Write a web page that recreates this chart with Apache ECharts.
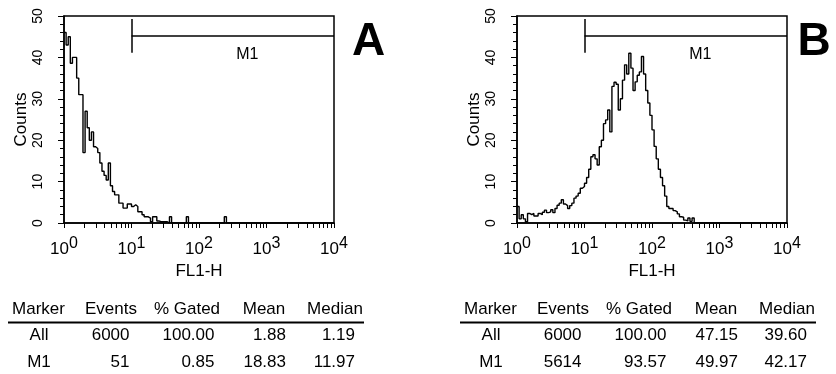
<!DOCTYPE html>
<html>
<head>
<meta charset="utf-8">
<script src="https://cdn.jsdelivr.net/npm/echarts@6/dist/echarts.min.js"></script>
<style>
  html, body { margin: 0; padding: 0; background: #fff; }
  #chart { width: 836px; height: 374px; }
</style>
</head>
<body>
<div id="chart"></div>
<script>
// FL1-H histograms, 32 channels per decade from 10^0 to 10^4
const countsA = [
  46, 43, 45, 38.6, 40, 40, 35, 31, 31, 17,
  27, 23, 20, 22, 18.4, 18, 17, 14.5, 12.5, 11.5,
  10.4, 14.5, 9, 7.6, 6.8, 6.8, 4.8, 4.8, 3.6, 3.6,
  4.6, 4.6, 4, 4.4, 4, 2.7, 2.7, 2, 1.5, 1.5,
  1.2, 0.3, 1.5, 1.5, 0.5, 0.3, 0.3, 0.3, 0.3, 0,
  1.5, 0, 0, 0, 0, 0, 0, 0, 1.5, 0,
  0, 0, 0, 0, 0, 0, 0, 0, 0, 0,
  0, 0, 0, 0, 0, 0, 1.5, 0, 0, 0,
  0, 0, 0, 0, 0, 0, 0, 0, 0, 0,
  0, 0, 0, 0, 0, 0, 0, 0, 0, 0,
  0, 0, 0, 0, 0, 0, 0, 0, 0, 0,
  0, 0, 0, 0, 0, 0, 0, 0, 0, 0,
  0, 0, 0, 0, 0, 0, 0, 0
];
const countsB = [
  4, 1, 2, 1, 0.3, 2.3, 2, 2.3, 1.7, 1.7,
  2.3, 2, 2.6, 3.1, 2.5, 2.7, 3.2, 2.5, 3.5, 4.3,
  4.8, 5.6, 4.6, 4.2, 3.5, 4.2, 4.8, 6, 6.5, 7.2,
  8.4, 8.8, 9.6, 11, 13, 16, 16.5, 15.5, 14, 18.4,
  20, 24, 24.9, 27.3, 22, 33, 34, 33.5, 27.3, 30,
  34.5, 38.2, 36, 41, 37.4, 32, 34.1, 35.7, 36.5, 40.2,
  36, 32, 29, 26, 22.5, 18.5, 15.5, 13, 11, 9,
  6.5, 4, 3.5, 3.5, 3, 2.7, 2.2, 1.5, 1.4, 0.7,
  0.5, 1.2, 0.4, 1.2, 0, 0, 0, 0, 0, 0,
  0, 0, 0, 0, 0, 0, 0, 0, 0, 0,
  0, 0, 0, 0, 0, 0, 0, 0, 0, 0,
  0, 0, 0, 0, 0, 0, 0, 0, 0, 0,
  0, 0, 0, 0, 0, 0, 0, 0
];
const channelsPerDecade = 32;
const decades = [1, 10, 100, 1000, 10000];
const countMax = 50;
const countStep = 10;

// M1 marker gate
const markerFrom = 10;
const markerTo = 10000;
const markerLevel = 45.2;
const markerHalf = 4.1;
const markerLabelAt = [520, 40.6];

// stats tables
const tableHeader = ['Marker', 'Events', '% Gated', 'Mean', 'Median'];
const statsA = [
  ['All', '6000', '100.00', '1.88', '1.19'],
  ['M1', '51', '0.85', '18.83', '11.97']
];
const statsB = [
  ['All', '6000', '100.00', '47.15', '39.60'],
  ['M1', '5614', '93.57', '49.97', '42.17']
];
const panelNames = ['A', 'B'];

const FONT = '"Liberation Sans", Arial, sans-serif';
const chart = echarts.init(document.getElementById('chart'));

// tick marks at 1..9 of each decade, expressed in channel units
const tickChannels = [];
decades.slice(0, -1).forEach(d => {
  for (let k = 1; k < 10; k++) tickChannels.push(channelsPerDecade * Math.log10(d * k));
});
tickChannels.push(channelsPerDecade * Math.log10(decades[decades.length - 1]));

const gridLefts = [64, 517];
const grid = gridLefts.map(l => ({
  left: l, top: 16, width: 270, height: 207,
  show: true, borderColor: '#000', borderWidth: 1.5
}));

const xAxis = [];
const yAxis = [];
const series = [];

[countsA, countsB].forEach((counts, p) => {
  // channel axis: histogram steps + the log tick marks
  xAxis.push({
    gridIndex: p, type: 'value', min: 0, max: counts.length, position: 'bottom',
    axisLine: {show: true, lineStyle: {color: '#000', width: 1.5}},
    axisTick: {show: true, length: 5, customValues: tickChannels, lineStyle: {color: '#000', width: 1}},
    axisLabel: {show: false},
    splitLine: {show: false}
  });
  // log display axis with the decade labels
  xAxis.push({
    gridIndex: p, type: 'log', logBase: 10, min: decades[0], max: decades[decades.length - 1],
    position: 'bottom',
    axisLine: {show: false},
    axisTick: {show: false},
    splitLine: {show: false},
    minorTick: {show: false},
    axisLabel: {
      margin: 13,
      formatter: v => '{b|10}{s|' + Math.round(Math.log10(v)) + '}',
      rich: {
        b: {fontSize: 17, fontFamily: FONT, color: '#000', verticalAlign: 'bottom'},
        s: {fontSize: 16, fontFamily: FONT, color: '#000', verticalAlign: 'bottom', padding: [0, 0, 6, 0]}
      }
    },
    name: 'FL1-H', nameLocation: 'middle', nameGap: 37,
    nameTextStyle: {fontSize: 17, fontFamily: FONT, color: '#000'}
  });
  yAxis.push({
    gridIndex: p, type: 'value', min: 0, max: countMax, interval: countStep,
    axisLine: {show: true, lineStyle: {color: '#000', width: 1.5}},
    axisTick: {show: true, length: 6, lineStyle: {color: '#000', width: 1}},
    minorTick: {show: true, splitNumber: 5, length: 4, lineStyle: {color: '#000', width: 1}},
    splitLine: {show: false},
    minorSplitLine: {show: false},
    axisLabel: {rotate: 90, margin: 19, fontSize: 14, fontFamily: FONT, color: '#000'},
    name: 'Counts', nameLocation: 'middle', nameGap: 34,
    nameTextStyle: {fontSize: 17, fontFamily: FONT, color: '#000'}
  });

  const steps = counts.map((c, i) => [i, c]);
  steps.push([counts.length, counts[counts.length - 1]]);
  series.push({
    type: 'line', xAxisIndex: 2 * p, yAxisIndex: p,
    step: 'end', symbol: 'none', data: steps,
    lineStyle: {color: '#000', width: 1.4}
  });

  series.push({
    type: 'scatter', xAxisIndex: 2 * p + 1, yAxisIndex: p,
    data: [markerLabelAt], symbolSize: 1,
    itemStyle: {color: '#fff', opacity: 1},
    label: {show: true, position: 'inside', formatter: 'M1', fontSize: 16, fontFamily: FONT, color: '#000'},
    markLine: {
      silent: true, symbol: 'none', label: {show: false},
      lineStyle: {color: '#000', width: 1.5, type: 'solid', opacity: 1},
      data: [
        [{coord: [markerFrom, markerLevel + markerHalf]}, {coord: [markerFrom, markerLevel - markerHalf]}],
        [{coord: [markerFrom, markerLevel]}, {coord: [markerTo, markerLevel]}]
      ]
    }
  });
});

// stats tables under each histogram
const headerCenters = [30.5, 103, 179, 256, 327];
const cellAnchors = [31, 121.5, 206.5, 278, 347];
const rowYs = [335, 362.5];
function tableElements(x0, rows) {
  const els = [];
  tableHeader.forEach((h, c) => els.push({
    type: 'text', x: x0 + headerCenters[c], y: 309.5,
    style: {text: h, fill: '#000', font: '17px ' + FONT, align: 'center', verticalAlign: 'middle'}
  }));
  els.push({
    type: 'line', shape: {x1: x0, y1: 322.5, x2: x0 + 356, y2: 322.5},
    style: {stroke: '#000', lineWidth: 2}
  });
  rows.forEach((r, ri) => r.forEach((cell, c) => els.push({
    type: 'text', x: x0 + cellAnchors[c], y: rowYs[ri],
    style: {text: cell, fill: '#000', font: '17px ' + FONT, align: c === 0 ? 'center' : 'right', verticalAlign: 'middle'}
  })));
  return els;
}

const graphic = [
  ...tableElements(8, statsA),
  ...tableElements(460, statsB),
  {type: 'text', x: 368.5, y: 42, style: {text: panelNames[0], fill: '#000', font: 'bold 46px ' + FONT, align: 'center', verticalAlign: 'middle'}},
  {type: 'text', x: 814, y: 42, style: {text: panelNames[1], fill: '#000', font: 'bold 46px ' + FONT, align: 'center', verticalAlign: 'middle'}}
];

chart.setOption({
  animation: false,
  backgroundColor: '#fff',
  grid, xAxis, yAxis, series, graphic
});
</script>
</body>
</html>
